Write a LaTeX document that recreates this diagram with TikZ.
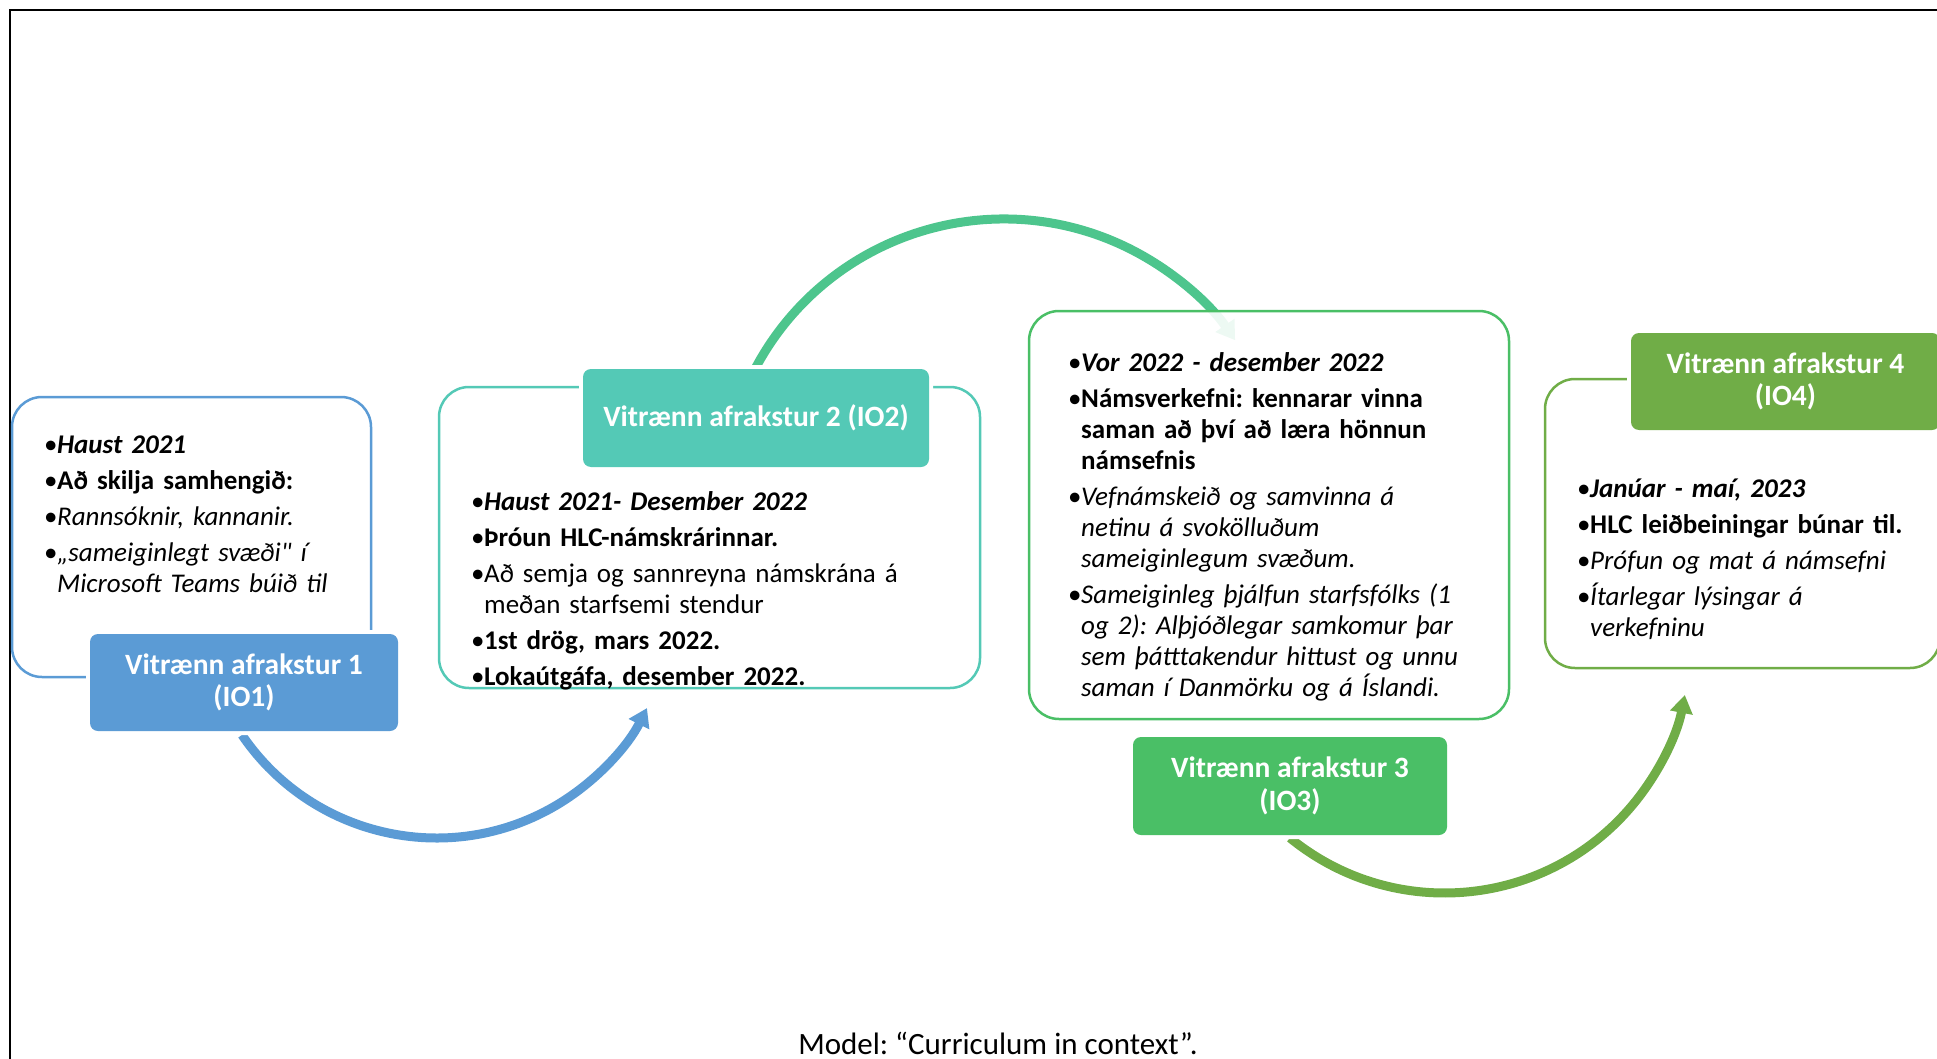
\documentclass[tikz,border=0pt]{standalone}
\usepackage{fontspec}
\setmainfont{Carlito}[Ligatures=TeXOff]
\usetikzlibrary{arrows.meta}
\frenchspacing

\definecolor{ioblue}{RGB}{91,155,213}
\definecolor{ioteal}{RGB}{84,201,182}
\definecolor{iomint}{RGB}{77,197,141}
\definecolor{iogreen}{RGB}{74,191,102}
\definecolor{ioolive}{RGB}{112,173,71}

% bulleted lines with a hanging indent for wrapped lines
\newlength{\bulw}
\setlength{\bulw}{13pt}
\newcommand{\bfirst}[1]{\hangindent=\bulw\hangafter=1\noindent\makebox[\bulw][l]{•}#1}
\newcommand{\bnext}[1]{\par\vspace{5pt}\bfirst{#1}}
\newcommand{\bi}[1]{\textbf{\textit{#1}}}

\begin{document}
\begin{tikzpicture}[x=1pt,y=1pt,
  frame/.style={line width=2pt, draw=black},
  panel/.style={draw=#1, line width=2.5pt, rounded corners=30pt, inner sep=0pt},
  tag/.style={fill=#1, rounded corners=8pt, inner sep=0pt, text=white,
    font=\fontsize{29.5}{32.5}\selectfont\bfseries, align=center,
    preaction={draw=white, line width=8pt}},
  body/.style={anchor=base west, inner sep=0pt, text width=520pt, align=left,
    font=\fontsize{27}{31}\selectfont},
  flow/.style={draw=#1, line width=9pt, -{Triangle[width=22pt,length=18pt]}},
]
\useasboundingbox (0,0) rectangle (1937,-1059);

% page frame (top and left rules)
\draw[frame] (1940,-10) -- (10,-10) -- (10,-1062);

% curved arrows between the stages
\coordinate (c1) at (436.6,-602.7);
\coordinate (c2) at (1003.8,-500.4);
\coordinate (c3) at (1444.6,-648.3);
\coordinate (s1) at ([shift={(214.2:235.3)}]c1);
\coordinate (s2) at ([shift={(151.7:281.4)}]c2);
\coordinate (s3) at ([shift={(230.8:244.7)}]c3);
\draw[flow=ioblue] (s1) arc[start angle=214.2, end angle=333.4, radius=235.3];
\draw[flow=iomint] (s2) arc[start angle=151.7, end angle=34.7, radius=281.4];
\draw[flow=ioolive] (s3) arc[start angle=230.8, end angle=349, radius=244.7];

% content panels
\node[panel=ioblue, minimum width=359pt, minimum height=280pt] (p1) at (191.5,-537) {};
\node[panel=ioteal, minimum width=541pt, minimum height=301pt] (p2) at (709.5,-537.5) {};
\node[panel=iogreen, fill=white, fill opacity=0.9, minimum width=480pt, minimum height=408pt] (p3) at (1269,-515) {};
\node[panel=ioolive, minimum width=395pt, minimum height=289pt] (p4) at (1742.5,-523.5) {};

% stage labels
\node[tag=ioblue, minimum width=308pt, minimum height=97pt] (t1) at (244,-682.5) {Vitrænn afrakstur 1\\(IO1)};
\node[tag=ioteal, minimum width=346pt, minimum height=98pt] (t2) at (756,-418) {Vitrænn afrakstur 2 (IO2)};
\node[tag=iogreen, minimum width=314pt, minimum height=98pt] (t3) at (1290,-786) {Vitrænn afrakstur 3\\(IO3)};
\node[tag=ioolive, minimum width=309pt, minimum height=97pt] (t4) at (1785.5,-381.5) {Vitrænn afrakstur 4\\(IO4)};

% panel texts
\node[body] (x1) at (44,-453) {%
\bfirst{\bi{Haust 2021}}%
\bnext{\textbf{Að skilja samhengið:}}%
\bnext{\textit{Rannsóknir, kannanir.}}%
\bnext{\textit{„sameiginlegt svæði" í\newline Microsoft Teams búið til}}\par};

\node[body] (x2) at (471,-510) {%
\bfirst{\bi{Haust 2021- Desember 2022}}%
\bnext{\textbf{Þróun HLC-námskrárinnar.}}%
\bnext{Að semja og sannreyna námskrána á\newline meðan starfsemi stendur}%
\bnext{\textbf{1st drög, mars 2022.}}%
\bnext{\textbf{Lokaútgáfa, desember 2022.}}\par};

\node[body] (x3) at (1068,-371) {%
\bfirst{\bi{Vor 2022 - desember 2022}}%
\bnext{\textbf{Námsverkefni: kennarar vinna\newline saman að því að læra hönnun\newline námsefnis}}%
\bnext{\textit{Vefnámskeið og samvinna á\newline netinu á svokölluðum\newline sameiginlegum svæðum.}}%
\bnext{\textit{Sameiginleg þjálfun starfsfólks (1\newline og 2): Alþjóðlegar samkomur þar\newline sem þátttakendur hittust og unnu\newline saman í Danmörku og á Íslandi.}}\par};

\node[body] (x4) at (1577,-497) {%
\bfirst{\bi{Janúar - maí, 2023}}%
\bnext{\textbf{HLC leiðbeiningar búnar til.}}%
\bnext{\textit{Prófun og mat á námsefni}}%
\bnext{\textit{Ítarlegar lýsingar á\newline verkefninu}}\par};

% caption
\node[anchor=base, inner sep=0pt, font=\fontsize{31}{37}\selectfont] (cap) at (998,-1054) {Model: “Curriculum in context”.};
\end{tikzpicture}
\end{document}
